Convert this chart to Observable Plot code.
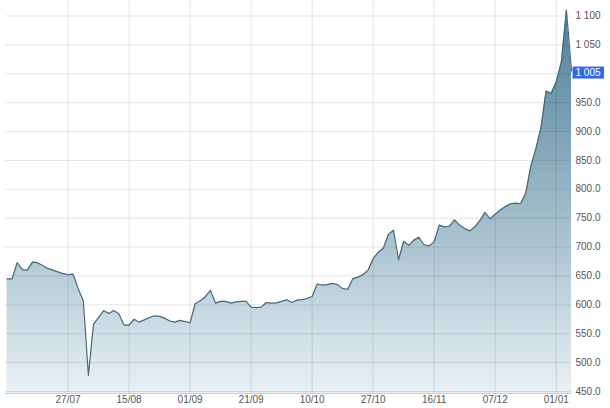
<!DOCTYPE html>
<html><head><meta charset="utf-8">
<script src="https://cdn.jsdelivr.net/npm/d3@7"></script>
<script src="https://cdn.jsdelivr.net/npm/@observablehq/plot@0.6"></script>
<style>
html,body{margin:0;padding:0;background:#fff;}
#chart svg{display:block;}
</style></head><body><div id="chart"></div>
<script>
// one value per trading session
const values = [
  645, 645, 673, 661, 660, 674, 673, 668, 663, 660,
  657, 654, 652.5, 653, 628, 607, 478, 566, 578, 590,
  585, 590, 584, 565, 565, 575, 570, 574, 578, 581,
  580, 577, 572, 570, 573, 571, 569, 602, 607, 614,
  625, 603, 606, 606, 603, 605, 606, 606, 596, 595,
  596, 604, 603, 603.5, 606, 608.7, 604, 608, 609, 611,
  614.5, 636, 634, 635, 637, 635, 628, 627, 645, 648,
  652, 660, 680, 691, 698, 722, 729, 678, 710, 703,
  712, 717, 704, 702, 709, 738, 735, 736, 747, 738,
  732, 728, 735, 746, 760, 749, 757, 764, 770, 775,
  776, 775, 793, 840, 870, 907, 970, 966, 986, 1020,
  1110, 1005
];
const tickIndex = [12, 24, 36, 48, 60, 72, 84, 96, 108];
const tickLabels = ["27/07", "15/08", "01/09", "21/09", "10/10", "27/10", "16/11", "07/12", "01/01"];
const yTicks = [450, 500, 550, 600, 650, 700, 750, 800, 850, 900, 950, 1000, 1050, 1100];
const yLabelTicks = [450, 500, 550, 600, 650, 700, 750, 800, 850, 900, 950, 1050, 1100];
const lastLabel = "1 005";

const yMin = 446.5, yMax = 1126.8;
const data = values.map((v, i) => ({i, v}));
const fmt = v => v >= 1000 ? d3.format(",")(v).replace(",", " ") : v.toFixed(1);

const plot = Plot.plot({
  width: 610, height: 408,
  marginTop: 0, marginBottom: 15, marginLeft: 5, marginRight: 39,
  style: {fontFamily: "'Liberation Sans', Arial, sans-serif", fontSize: "10px", color: "#555", background: "#fff"},
  x: {type: "linear", domain: [-0.3, values.length - 1], axis: null},
  y: {domain: [yMin, yMax], axis: null},
  marks: [
    Plot.areaY(data, {x: "i", y1: yMin, y2: "v", fill: "url(#areaGrad)"}),
    Plot.gridY(yTicks, {stroke: "#000", strokeOpacity: 0.1}),
    Plot.gridX(tickIndex, {stroke: "#000", strokeOpacity: 0.1}),
    Plot.ruleY([yMin], {stroke: "#c5d0d8", strokeWidth: 1}),
    Plot.lineY(data, {x: "i", y: "v", stroke: "#46697e", strokeWidth: 1.2}),
    Plot.axisX(tickIndex, {anchor: "bottom", tickSize: 0, tickPadding: 2, label: null,
      tickFormat: d => tickLabels[tickIndex.indexOf(d)]}),
    Plot.axisY(yLabelTicks, {anchor: "right", tickSize: 0, tickPadding: 4, label: null, tickFormat: fmt}),
    Plot.text([values.length - 1], {x: d => d, y: d => values[d], text: () => lastLabel,
      textAnchor: "start", dx: 4, dy: 2, fill: "#fff", fontSize: 10})
  ]
});

document.getElementById("chart").appendChild(plot);

const svg = d3.select(plot);
const yScale = plot.scale("y");
const grad = svg.insert("defs", ":first-child").append("linearGradient")
  .attr("id", "areaGrad").attr("gradientUnits", "userSpaceOnUse")
  .attr("x1", 0).attr("x2", 0)
  .attr("y1", yScale.apply(yMax)).attr("y2", yScale.apply(yMin));
grad.append("stop").attr("offset", "0%").attr("stop-color", "#4a7c96");
grad.append("stop").attr("offset", "100%").attr("stop-color", "#e8f0f4");

const lastText = svg.select('g[aria-label="text"] text');
const bb = lastText.node().getBBox();
d3.select(lastText.node().parentNode).insert("rect", ":first-child")
  .attr("transform", lastText.attr("transform"))
  .attr("x", bb.x - 3).attr("y", bb.y - 0.5)
  .attr("width", bb.width + 6).attr("height", bb.height + 1)
  .attr("fill", "#3366f0");
</script></body></html>
